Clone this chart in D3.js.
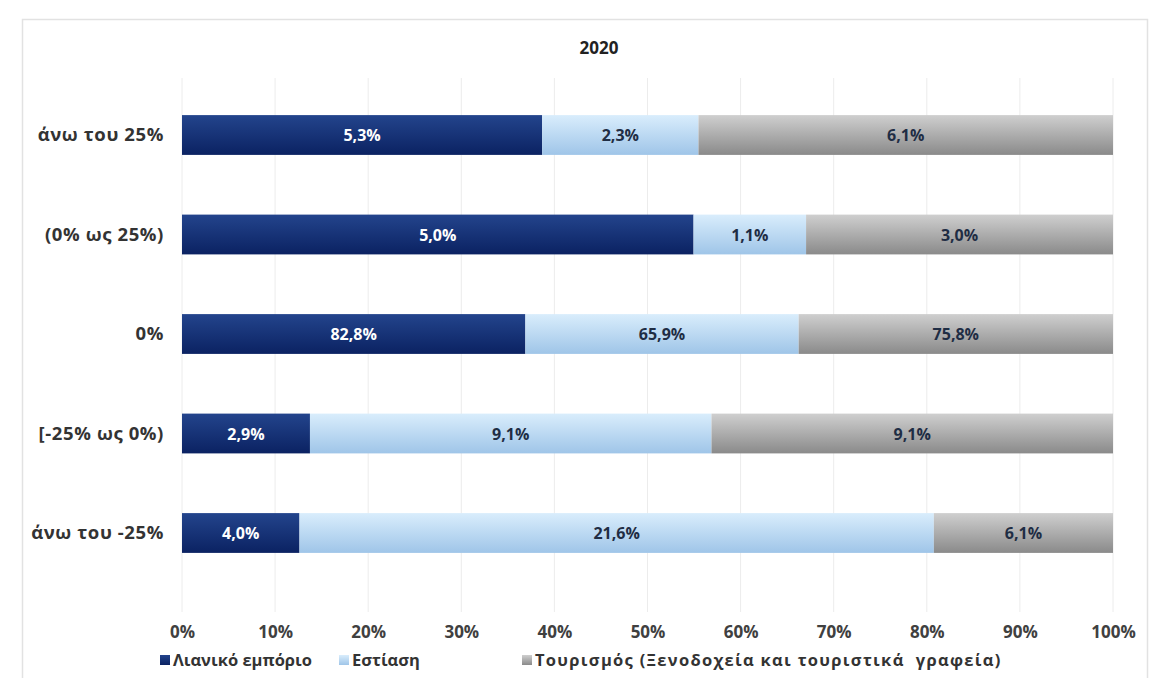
<!DOCTYPE html>
<html>
<head>
<meta charset="utf-8">
<script src="https://cdn.jsdelivr.net/npm/d3@7"></script>
<style>
  body { margin: 0; background: #fff; }
  text { font-family: "Open Sans", sans-serif; font-weight: bold; white-space: pre; }
</style>
</head>
<body>
<div id="chart"></div>
<script>
var categories = ["άνω του 25%", "(0% ως 25%)", "0%", "[-25% ως 0%)", "άνω του -25%"]
var seriesNames = ["Λιανικό εμπόριο", "Εστίαση", "Τουρισμός (Ξενοδοχεία και τουριστικά  γραφεία)"]
var retail = [5.3, 5.0, 82.8, 2.9, 4.0]
var food = [2.3, 1.1, 65.9, 9.1, 21.6]
var tourism = [6.1, 3.0, 75.8, 9.1, 6.1]
var xTicks = [0, 0.1, 0.2, 0.3, 0.4, 0.5, 0.6, 0.7, 0.8, 0.9, 1]

var W = 1156, H = 678
var svg = d3.select("#chart").append("svg").attr("width", W).attr("height", H)

// frame
svg.append("rect").attr("x", 22.5).attr("y", 19.5).attr("width", 1125).attr("height", 670)
  .attr("fill", "#fff").attr("stroke", "#e2e2e2").attr("stroke-width", 1.5)

var defs = svg.append("defs")
var grads = [
  ["g0", "#23448c", "#0b2262"],
  ["g1", "#d9edfc", "#9fc5e8"],
  ["g2", "#cfcfcf", "#8a8a8a"]
]
grads.forEach(function(g) {
  var lg = defs.append("linearGradient").attr("id", g[0]).attr("x1", 0).attr("y1", 0).attr("x2", 0).attr("y2", 1)
  lg.append("stop").attr("offset", "0%").attr("stop-color", g[1])
  lg.append("stop").attr("offset", "100%").attr("stop-color", g[2])
})

var x = d3.scaleLinear().domain([0, 1]).range([182, 1113])
var y = d3.scaleBand().domain(categories).range([85.25, 582.75]).paddingInner(0.6).paddingOuter(0.3)

// gridlines
svg.append("g").selectAll("line").data(xTicks).enter().append("line")
  .attr("x1", function(d) { return x(d) }).attr("x2", function(d) { return x(d) })
  .attr("y1", 78).attr("y2", 612)
  .attr("stroke", "#ececec").attr("stroke-width", 1)

// title
svg.append("text").attr("x", 599).attr("y", 54).attr("text-anchor", "middle")
  .attr("font-size", 17).attr("fill", "#222").text("2020")

var rows = categories.map(function(c, i) {
  return { cat: c, v: [retail[i], food[i], tourism[i]] }
})
var stack = []
rows.forEach(function(r) {
  var tot = d3.sum(r.v), acc = 0
  r.v.forEach(function(v, k) {
    stack.push({ cat: r.cat, k: k, v: v, x0: acc / tot, x1: (acc + v) / tot })
    acc += v
  })
})

var fmt = function(v) { return d3.format(".1f")(v).replace(".", ",") + "%" }

svg.append("g").selectAll("rect").data(stack).enter().append("rect")
  .attr("x", function(d) { return x(d.x0) })
  .attr("y", function(d) { return y(d.cat) })
  .attr("width", function(d) { return x(d.x1) - x(d.x0) })
  .attr("height", y.bandwidth())
  .attr("fill", function(d) { return "url(#g" + d.k + ")" })

svg.append("g").selectAll("text").data(stack).enter().append("text")
  .attr("x", function(d) { return (x(d.x0) + x(d.x1)) / 2 })
  .attr("y", function(d) { return y(d.cat) + y.bandwidth() / 2 + 6 })
  .attr("text-anchor", "middle").attr("font-size", 16)
  .attr("fill", function(d) { return d.k == 0 ? "#fff" : "#1f2d44" })
  .text(function(d) { return fmt(d.v) })

// category labels
svg.append("g").selectAll("text").data(categories).enter().append("text")
  .attr("x", 164).attr("y", function(d) { return y(d) + y.bandwidth() / 2 + 6 })
  .attr("text-anchor", "end").attr("font-size", 18.5).attr("letter-spacing", 0.6).attr("fill", "#333")
  .text(function(d) { return d })

// x axis
var xAxis = d3.axisBottom(x).tickValues(xTicks).tickSize(0).tickFormat(d3.format(".0%"))
var ax = svg.append("g").attr("transform", "translate(0,623)").call(xAxis)
ax.select(".domain").remove()
ax.selectAll("text").attr("font-size", 17).attr("fill", "#404040")
  .style("font-family", "'Open Sans', sans-serif").style("font-weight", "bold")

// legend
var legX = [160, 339, 522]
var legSpacing = [0, 0, 1.3]
var leg = svg.append("g").selectAll("g").data(seriesNames).enter().append("g")
  .attr("transform", function(d, i) { return "translate(" + legX[i] + ",661)" })
leg.append("rect").attr("x", 0).attr("y", -6).attr("width", 10).attr("height", 10)
  .attr("fill", function(d, i) { return "url(#g" + i + ")" })
leg.append("text").attr("x", 13).attr("y", 5).attr("font-size", 16.5).attr("fill", "#333")
  .attr("letter-spacing", function(d, i) { return legSpacing[i] })
  .text(function(d) { return d })
</script>
</body>
</html>
